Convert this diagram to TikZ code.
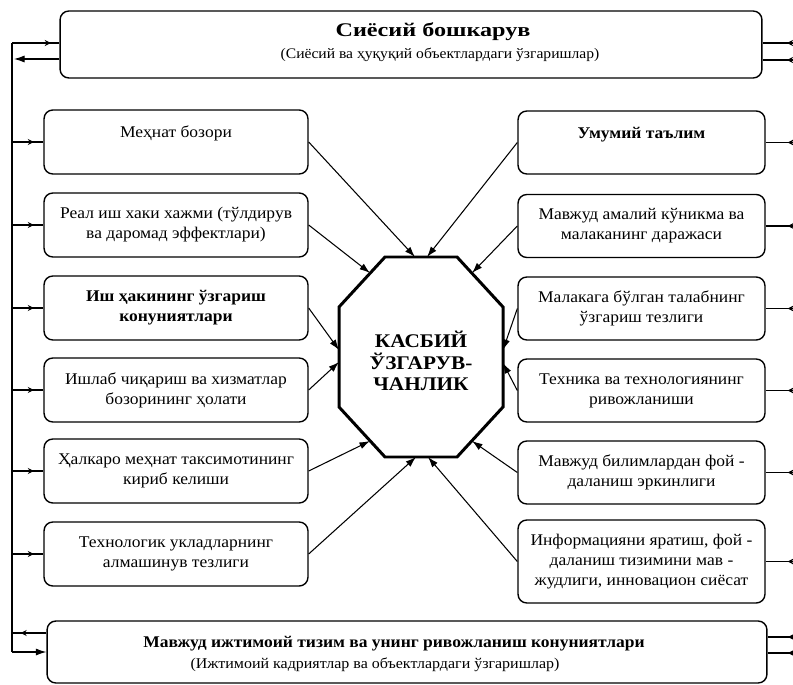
\documentclass[tikz,border=0pt]{standalone}
\usepackage{fontspec}
\setmainfont[FakeStretch=1.07]{Liberation Serif}
\newfontfamily\widebf[FakeStretch=1.25]{Liberation Serif}
\newfontfamily\medbf[FakeStretch=1.1]{Liberation Serif}
\usetikzlibrary{arrows.meta,decorations.markings,calc}
\tikzset{
  box/.style={draw, line width=0.8pt, rounded corners=5pt, align=center, inner sep=2pt,
    font=\fontsize{9.3}{11.4}\selectfont},
  lbox/.style={box, minimum width=5.28cm, minimum height=1.28cm},
  rbox/.style={box, minimum width=4.94cm, minimum height=1.26cm},
  bigbox/.style={draw, line width=0.8pt, rounded corners=5pt},
  conn/.style={line width=0.6pt, -{Latex[length=6pt,width=4pt]}},
  link/.style={line width=0.6pt},
  tipmark/.style={postaction={decorate}, decoration={markings,
    mark=at position #1 with {\arrow{Stealth[length=3.5pt,width=3.5pt]}}}},
  octo/.style={line width=1.7pt, line join=miter},
  coretext/.style={align=center, font=\medbf\bfseries\fontsize{11}{12.2}\selectfont},
  titletext/.style={inner sep=0pt, align=center},
  subtext/.style={inner sep=0pt, font=\fontsize{8.3}{10}\selectfont}
}
\begin{document}
\begin{tikzpicture}[x=0.02cm,y=-0.02cm]
\useasboundingbox[fill=white] (0,0) rectangle (793,685);

% top and bottom boxes
\node[bigbox, minimum width=14.04cm, minimum height=1.34cm] (top) at (411,44.5) {};
\node[titletext, font=\widebf\bfseries\fontsize{11}{13}\selectfont] (topA) at (433,32) {Сиёсий бошкарув};
\node[subtext] (topB) at (440,55) {(Сиёсий ва ҳуқуқий объектлардаги ўзгаришлар)};

\node[bigbox, minimum width=14.4cm, minimum height=1.24cm] (bot) at (407,652) {};
\node[titletext, font=\bfseries\fontsize{9.3}{11}\selectfont] (botA) at (394,644) {Мавжуд ижтимоий тизим ва унинг ривожланиш конуниятлари};
\node[subtext, font=\fontsize{8.5}{10}\selectfont] (botB) at (375,665) {(Ижтимоий кадриятлар ва объектлардаги ўзгаришлар)};

% left boxes
\node[lbox] (L1) at (176,142) {Меҳнат бозори\\\mbox{}};
\node[lbox] (L2) at (176,225) {Реал иш хаки хажми (тўлдирув\\ва даромад эффектлари)};
\node[lbox] (L3) at (176,308) {\bfseries Иш ҳакининг ўзгариш\\\bfseries конуниятлари};
\node[lbox] (L4) at (176,390) {Ишлаб чиқариш ва хизматлар\\бозорининг ҳолати};
\node[lbox] (L5) at (176,471) {Ҳалкаро меҳнат таксимотининг\\кириб келиши};
\node[lbox] (L6) at (176,554) {Технологик укладларнинг\\алмашинув тезлиги};

% right boxes
\node[rbox] (R1) at (641.5,142.5) {\bfseries Умумий таълим\\\mbox{}};
\node[rbox] (R2) at (641.5,226) {Мавжуд амалий кўникма ва\\малаканинг даражаси};
\node[rbox] (R3) at (641.5,308.5) {Малакага бўлган талабнинг\\ўзгариш тезлиги};
\node[rbox] (R4) at (641.5,390.5) {Техника ва технологиянинг\\ривожланиши};
\node[rbox] (R5) at (641.5,472.5) {Мавжуд билимлардан фой -\\даланиш эркинлиги};
\node[rbox, minimum height=1.66cm] (R6) at (641.5,561.5) {Информацияни яратиш, фой -\\даланиш тизимини мав -\\жудлиги, инновацион сиёсат};

% octagon
\coordinate (o1) at (385,257);
\coordinate (o2) at (457,257);
\coordinate (o3) at (503,307);
\coordinate (o4) at (503,407);
\coordinate (o5) at (457,457);
\coordinate (o6) at (385,457);
\coordinate (o7) at (339,407);
\coordinate (o8) at (339,307);
\draw[octo] (o1) -- (o2) -- (o3) -- (o4) -- (o5) -- (o6) -- (o7) -- (o8) -- cycle;
\node[coretext] (core) at (421,361) {КАСБИЙ\\ЎЗГАРУВ-\\ЧАНЛИК};

% arrow targets on the octagon
\coordinate (tL1) at (415,257);
\coordinate (tR1) at (427,257);
\coordinate (tL2) at (370,273);
\coordinate (tR2) at (472,273);
\coordinate (tL3) at (339,350);
\coordinate (tL4) at (339,362);
\coordinate (tR3) at (503,350);
\coordinate (tR4) at (503,363);
\coordinate (tL5) at (370,441);
\coordinate (tR5) at (472,441);
\coordinate (tL6) at (416,457);
\coordinate (tR6) at (428,457);

\draw[conn] (L1.east) -- (tL1);
\draw[conn] (L2.east) -- (tL2);
\draw[conn] (L3.east) -- (tL3);
\draw[conn] (L4.east) -- (tL4);
\draw[conn] (L5.east) -- (tL5);
\draw[conn] (L6.east) -- (tL6);
\draw[conn] (R1.west) -- (tR1);
\draw[conn] (R2.west) -- (tR2);
\draw[conn] (R3.west) -- (tR3);
\draw[conn] (R4.west) -- (tR4);
\draw[conn] (R5.west) -- (tR5);
\draw[conn] (R6.west) -- (tR6);

% left feedback loop
\coordinate (vtop) at (12,43);
\coordinate (vbot) at (12,652);
\coordinate (tl2) at (14,59);
\coordinate (bl1) at (12,633);
\draw[link] (vtop) -- (vbot);
\draw[link, tipmark=0.82] (vtop) -- (vtop -| top.west);
\draw[conn] (tl2 -| top.west) -- (tl2);
\foreach \b in {L1,L2,L3,L4,L5,L6}
  \draw[link, tipmark=0.7] (\b.west -| vtop) -- (\b.west);
\draw[link, tipmark=0.75] (bl1 -| bot.west) -- (bl1);
\draw[conn] (vbot) -- (vbot -| bot.west);

% right side links (running off the picture)
\coordinate (rx) at (793,0);
\coordinate (tr1) at (0,43);
\coordinate (tr2) at (0,60);
\coordinate (br1) at (0,637);
\coordinate (br2) at (0,653);
\draw[link, tipmark=0.2] (tr1 -| rx) -- (tr1 -| top.east);
\draw[link, tipmark=0.2] (tr2 -| rx) -- (tr2 -| top.east);
\foreach \b in {R1,R2,R3,R4,R5,R6}
  \draw[link, tipmark=0.2] (\b.east -| rx) -- (\b.east);
\draw[link, tipmark=0.2] (br1 -| rx) -- (br1 -| bot.east);
\draw[link, tipmark=0.2] (br2 -| rx) -- (br2 -| bot.east);
\end{tikzpicture}
\end{document}
